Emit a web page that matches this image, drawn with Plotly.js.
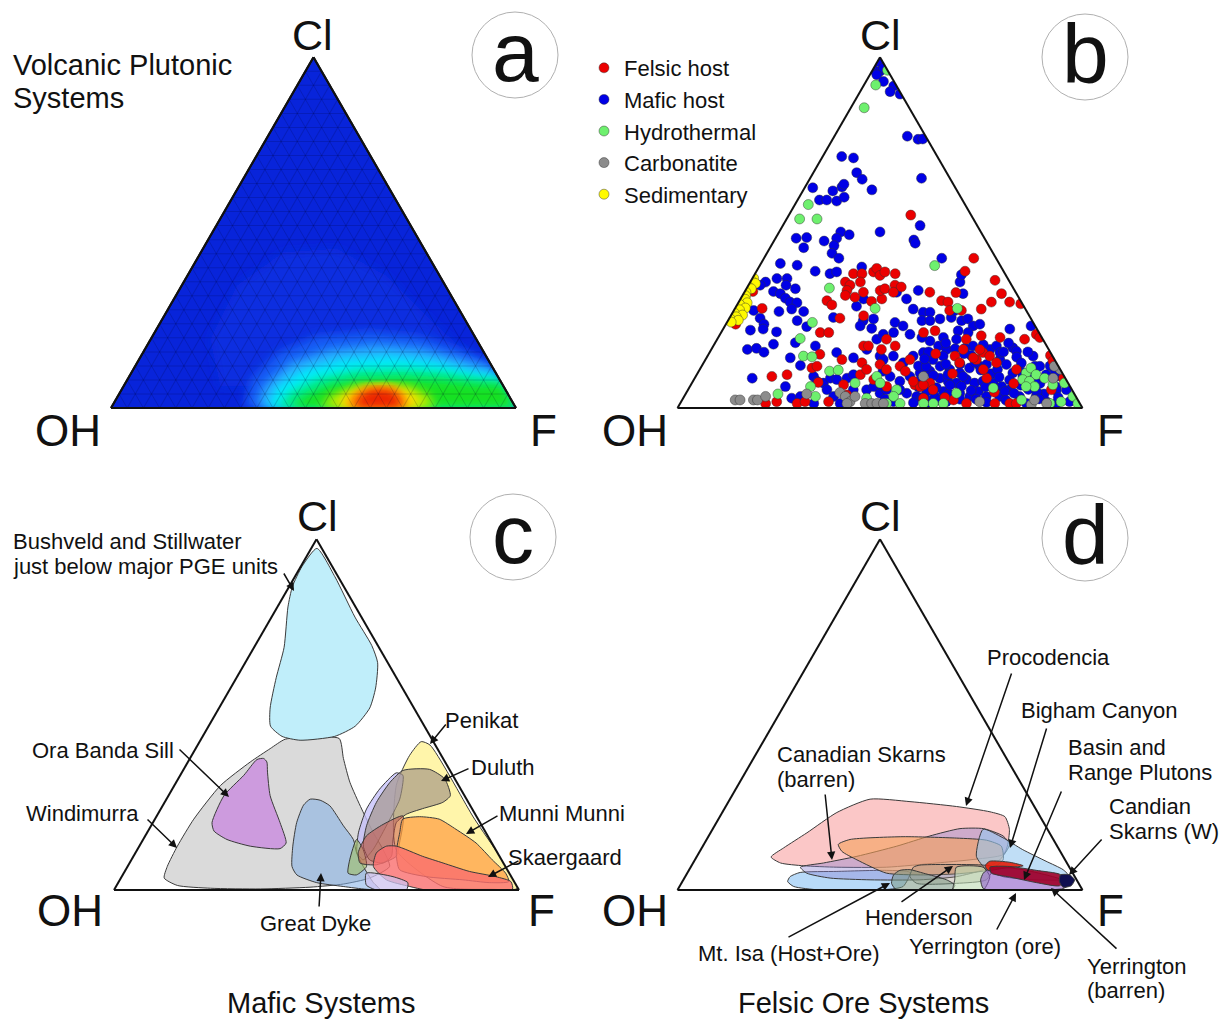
<!DOCTYPE html>
<html>
<head>
<meta charset="utf-8">
<script src="https://cdn.plot.ly/plotly-3.0.1.min.js"></script>
<style>
  html, body { margin: 0; padding: 0; background: #ffffff; }
  #chart { width: 1220px; height: 1019px; }
</style>
</head>
<body>
<div id="chart"></div>
<script>
// All compositions are percentages given as [Cl, F]; OH makes up the remainder.

// ---------- (a) volcanic-plutonic density field: nested levels, outermost first ----------
const densityColors = ['rgb(13,46,224)', 'rgb(22,92,244)', 'rgb(40,170,255)', 'rgb(0,236,250)',
  'rgb(0,235,140)', 'rgb(25,225,35)', 'rgb(175,235,0)', 'rgb(255,225,0)', 'rgb(255,130,0)', 'rgb(235,35,0)'];
const level1 = [[6.1,24.0],[19.5,14.8],[34.9,13.7],[44.4,20.4],[45.4,33.0],[37.7,49.1],[26.2,64.7],[17.6,77.2],[10.0,86.7],[6.1,91.1]];
const level2 = [[0,32.8],[8.0,30.4],[15.7,33.1],[20.5,40.5],[21.9,52.9],[20.5,65.9],[16.7,78.5],[13.8,86.1],[0,100]];
const level3 = [[0,36.0],[6.1,34.6],[12.8,37.8],[16.7,45.7],[18.1,56.5],[16.9,68.5],[13.8,79.9],[11.4,88.6],[0,100]];
const level4 = [[0,38.5],[6.1,37.9],[10.9,42.0],[14.0,50.3],[14.8,61.4],[13.3,73.6],[10.4,84.9],[9.5,90.5],[0,100]];
const level5 = [[0,41.0],[4.7,41.9],[8.5,46.6],[10.9,55.2],[11.4,66.4],[10.4,76.7],[8.5,86.7],[8.0,92.0],[0,100]];
const level6 = [[0,44.2],[3.3,45.9],[6.6,50.8],[8.2,58.1],[8.5,67.8],[7.8,78.0],[6.8,87.0],[6.6,93.3],[0,100]];
const level7 = [[0,51.5],[3.6,52.5],[6.0,56.5],[6.8,64.0],[6.0,71.5],[3.6,76.8],[0,80.0]];
const level8 = [[0,55.5],[3.6,55.8],[6.0,59.0],[6.5,65.0],[5.0,71.0],[2.0,75.0],[0,76.8]];
const level9 = [[0,58.0],[3.6,57.8],[6.0,60.5],[6.0,66.2],[3.6,70.6],[0,73.5]];
const level10 = [[0,60.2],[3.6,59.8],[5.4,62.2],[5.0,66.8],[2.6,70.0],[0,71.6]];

// ---------- (b) apatite compositions by source ----------
const seriesNames = ['Felsic host', 'Mafic host', 'Hydrothermal', 'Carbonatite', 'Sedimentary'];
const maficHost = [[98.8,0.2],[96.5,0.1],[96.0,2.0],[96.9,2.4],[95.0,1.7],[93.1,4.3],[91.8,7.5],[90.2,7.4],[89.5,10.2],
  [77.5,18.0],[76.6,21.1],[76.7,22.2],[71.7,4.7],[71.3,7.8],[67.1,10.7],[65.2,13.0],[62.2,16.9],[65.5,27.5],[62.8,2.0],
  [61.9,7.4],[63.0,9.1],[63.8,9.2],[59.0,9.8],[60.1,11.1],[59.3,5.4],[59.3,7.2],[52.0,33.9],[47.9,34.4],[47.0,35.2],
  [50.2,24.9],[50.2,15.2],[49.4,17.7],[48.4,15.1],[48.4,5.1],[48.6,7.6],[47.6,12.4],[45.7,8.3],[46.3,15.5],[44.1,16.1],
  [42.7,18.5],[42.7,43.9],
  [41.2,4.8],[40.7,9.2],[39.0,14.5],[38.3,18.5],[38.8,19.9],[40.2,25.4],[35.9,3.8],[35.0,2.9],[36.9,6.1],[36.9,8.6],
  [35.0,9.3],[34.0,12.1],[33.2,7.1],[32.6,9.1],[31.3,11.0],[30.2,12.7],[30.0,14.5],[28.2,14.1],[27.5,17.4],[27.5,11.3],
  [27.8,4.9],[25.6,7.6],[23.9,9.4],[24.9,17.1],[23.2,20.3],[22.2,6.9],[22.5,9.9],[21.7,13.6],[17.7,25.2],[16.7,8.9],
  [17.0,11.0],[15.9,13.4],[18.2,14.6],[14.3,20.7],[12.1,24.3],[18.6,19.8],[15.8,31.4],[14.3,36.3],[16.7,38.4],[19.6,39.4],
  [22.7,36.6],[24.9,33.4],[23.4,33.4],[25.4,35.7],[21.0,40.3],[14.8,42.6],[8.5,14.2],[6.1,23.6],[2.8,26.8],[3.3,28.7],
  [9.0,29.1],[7.6,30.6],[7.1,32.5],[8.5,33.5],[8.1,35.3],[8.5,37.6],[9.5,38.7],[5.2,34.3],[3.3,36.9],[1.3,33.0],
  [1.3,39.5],[5.2,40.8],[5.2,44.1],[6.1,45.4],[4.2,47.9],[5.2,49.0],[29.0,29.7],[31.1,30.4],[25.8,25.6],
  [35.9,51.8],[38.0,51.1],[33.0,37.6],[33.5,42.7],[31.1,41.0],[28.2,44.1],[27.3,47.0],[27.3,48.7],[24.9,47.9],[24.9,49.9],
  [24.4,41.5],[23.4,44.0],[21.5,42.6],[21.0,46.9],[25.4,52.1],[25.8,54.7],[27.8,54.6],[32.6,54.2],[24.9,57.7],[25.4,59.0],
  [23.4,61.3],[23.9,62.7],[21.5,61.0],[22.0,58.3],[20.1,55.6],[19.1,52.8],[20.1,50.3],[17.7,55.6],[16.7,58.1],[16.9,60.1],
  [22.5,70.8],[17.2,74.2],[16.2,75.6],[23.4,75.6],[14.8,80.4],[11.9,82.3],
  [13.8,43.9],[14.8,45.9],[12.9,49.3],[14.8,50.8],[15.8,52.8],[13.8,56.2],[14.8,58.2],[11.9,58.9],[11.0,61.7],[10.0,64.7],
  [11.4,66.4],[11.9,68.7],[12.4,70.1],[13.8,72.7],[12.4,75.0],[10.0,77.8],[9.0,80.8],[9.0,83.3],[11.9,83.5],[9.5,86.3],
  [9.0,89.0],[5.2,93.4],[3.3,96.6],[9.0,48.0],[7.6,51.1],[9.0,52.9],[10.0,54.9],[10.5,57.1],[8.5,60.5],[7.6,63.0],
  [7.1,65.3],[8.1,67.3],[7.1,69.8],[7.6,71.6],[7.1,74.4],[6.1,77.0],[5.2,79.4],[3.3,82.8],[1.3,85.5],[3.3,86.9],
  [1.8,90.2],[1.3,92.9],[1.8,95.9],[4.2,54.5],[3.3,57.4],[4.7,59.2],[3.3,61.9],[4.7,63.3],[1.8,65.5],[4.2,67.6],
  [3.3,70.5],[4.7,71.9],[3.3,74.6],[3.3,77.9],[4.7,78.5],[1.8,52.4],[5.2,52.3],[19.6,59.1],[16.7,68.8],[17.7,69.9],
  [17.7,64.1],[15.8,71.7],[6.5,47.0],[2.5,50.0],[10.5,45.5],[12.0,53.5],[6.0,56.5],[2.2,60.5],[5.8,61.0],[9.5,62.0],
  [2.5,68.5],[6.0,73.0],[9.8,72.5],[5.5,75.5],[2.2,80.0],[6.5,81.5],[7.0,86.0],[4.0,88.5],[6.0,90.5],[12.5,63.5],
  [13.0,67.0],[15.0,65.0],
  [16.0,54.0],[18.5,57.0],[17.0,62.5],[15.5,63.0],[18.0,66.5],[16.0,72.5],[14.5,76.5],[12.8,78.5],[11.0,73.5],[10.8,69.5],
  [9.0,66.0],[9.3,58.5],[11.8,55.5],[12.5,60.0],[10.2,80.0],[8.0,78.0],[7.5,84.5],[5.3,84.0],[4.5,86.5],[2.6,88.0],
  [5.0,91.0],[3.0,92.5],[4.0,65.0],[2.3,63.5],[2.5,72.5],[5.0,70.0],[6.2,67.0],[1.6,75.5],[3.0,58.8],[8.0,56.0],
  [12.0,86.0],[10.5,88.0],[16.0,78.5],[18.5,72.5],[14.0,54.0],[6.5,64.0],[8.8,75.0],[4.2,81.0],[1.5,57.5],[0.9,62.0]];
const felsicHost = [[55.0,30.1],[42.7,51.8],
  [38.3,24.3],[38.3,26.4],[38.8,29.0],[39.8,29.3],[37.8,31.1],[38.8,31.8],[35.9,23.5],[35.0,25.1],[35.9,27.2],[33.5,25.1],
  [31.6,28.0],[32.1,25.4],[33.0,29.4],[30.4,32.7],[31.1,34.9],[33.5,33.3],[34.0,34.2],[30.6,21.6],[29.4,23.4],[25.6,27.3],
  [21.5,24.5],[21.5,26.6],[15.3,27.5],[13.8,33.7],[12.9,39.1],[17.7,37.1],[17.7,38.3],[26.3,32.8],[9.0,18.8],[9.5,22.3],
  [11.4,27.5],[11.9,28.5],[1.3,21.1],[1.8,23.6],[1.3,28.9],[1.8,30.6],[1.8,36.4],[3.7,40.0],[9.5,40.4],[7.3,31.1],
  [6.6,37.7],[11.0,41.2],[12.4,43.8],[8.1,44.4],[33.2,2.0],[23.9,2.4],[28.4,6.7],
  [39.0,51.5],[36.4,60.2],[32.6,63.7],[30.2,66.9],[29.7,69.9],[30.2,62.4],[28.2,60.9],[38.3,34.6],[35.0,36.2],[34.5,38.0],
  [33.0,36.8],[33.0,45.8],[30.6,49.9],[30.2,51.7],[27.8,53.3],[27.8,56.2],[32.9,52.3],[21.5,50.0],[22.0,52.6],[19.6,61.5],
  [16.7,62.2],[15.8,67.5],[14.8,69.7],[20.6,64.7],[20.1,69.6],[19.6,75.9],[21.0,78.1],[20.1,79.4],[15.0,84.6],[13.4,86.0],
  [11.0,78.2],[19.6,41.8],[16.7,42.0],[17.7,44.9],[13.8,50.5],[11.9,49.0],[11.0,46.1],[6.1,48.6],[6.6,55.3],[6.1,56.9],
  [7.1,58.8],[14.8,61.1],[12.9,63.2],[13.8,66.9],[12.9,72.3],[8.5,72.1],[1.3,70.7],[1.3,77.7],[1.3,81.4],[2.3,67.0],
  [5.2,89.7],[2.8,59.3],[16.7,66.3],[14.3,65.9],[7.6,54.4],[6.6,57.4],[5.2,60.5],[1.3,83.0],
  [9.8,63.0],[4.5,76.0],[7.0,79.5],[11.0,70.0],[3.0,64.5],[10.5,51.0],[15.5,56.0],[8.5,91.0]];
const hydrothermal = [[96.3,3.7],[92.1,2.9],[85.6,3.3],[58.0,3.3],[53.9,3.2],[53.9,7.5],[40.6,43.2],
  [34.2,20.4],[24.4,21.1],[19.8,20.4],[14.8,23.7],[14.6,25.9],[10.5,32.3],[10.8,34.3],[6.1,29.8],[4.0,22.8],[7.1,40.3],
  [9.0,44.7],[7.1,46.5],[28.4,34.6],[2.8,45.3],[1.3,51.0],[3.3,32.4],
  [28.4,54.9],[10.0,81.1],[11.4,81.6],[9.5,83.8],[8.1,81.2],[7.6,83.1],[6.1,85.1],[6.1,83.0],[8.5,86.4],[6.6,89.4],
  [7.1,92.0],[3.3,96.0],[1.3,98.2],[1.8,93.8],[1.3,91.3],[2.3,83.8],[5.7,75.1],[4.2,66.8],[1.3,65.0],[1.3,62.5],
  [1.3,60.1],[5.2,51.5],[3.3,51.7],[1.3,54.3]];
const carbonatite = [[2.3,13.1],[2.3,14.3],[2.3,17.6],[2.3,18.6],[3.3,20.1],[4.0,29.9],[4.4,37.9],[3.3,39.8],[1.8,41.7],
  [3.3,42.2],[1.3,45.7],[1.3,47.3],[1.3,48.6],[1.3,50.2],[1.3,41.2],[9.0,56.2],[1.8,73.7],[0.9,86.9],[2.3,87.0],
  [8.5,88.5],[11.0,89.0],[11.9,87.1],[1.3,90.5]];
const sedimentary = [[37,0.3],[36,0.5],[35.5,1.5],[34.5,0.3],[34,1.2],[33,0.4],[32,0.8],[31,1.2],[30,2.2],[29.5,0.6],
  [28.5,2.5],[28,1.3],[27,0.6],[26.5,2.8],[26,1.5],[25.5,0.2],[25,2.5],[24.5,1]];

// ---------- (c) mafic systems ----------
const windimurra = [[43.0,20.8],[43.4,26.7],[43.2,34.0],[37.5,37.9],[30.7,42.9],[23.1,49.6],[16.3,55.9],[11.5,60.7],
  [6.7,64.7],[3.4,61.4],[1.7,55.8],[0.8,48.0],[0.3,36.0],[0.5,23.6],[1.3,15.0],[3.4,10.7],[6.7,9.8],[12.5,9.4],
  [20.2,9.6],[29.8,11.4],[36.5,15.4],[40.3,18.4]];
const bushveldStillwater = [[97.4,1.4],[89.3,9.9],[77.8,20.6],[69.7,28.8],[64.8,32.7],[57.6,35.8],[51.9,37.2],[46.7,36.2],
  [43.8,32.6],[42.7,24.6],[43.8,19.6],[46.7,15.3],[51.9,12.6],[60.5,9.8],[69.2,7.4],[80.7,2.6],[86.5,0.8],[92.2,0.3]];
const oraBandaSill = [[37.5,18.2],[37.2,16.7],[32.7,15.7],[26.9,13.7],[19.2,14.6],[16.8,16.3],[14.4,20.7],[12.5,27.4],
  [11.8,35.1],[13.4,35.8],[19.2,31.4],[26.9,25.1],[33.6,21.1],[36.5,19.5]];
const greatDyke = [[25.9,35.5],[24.2,34.7],[19.2,35.5],[12.5,37.9],[6.7,40.6],[4.3,43.0],[2.1,49.0],[1.0,56.1],[0.2,62.2],
  [0.2,65.5],[2.1,63.0],[6.7,58.2],[10.6,54.6],[14.4,51.9],[18.3,47.5],[24.0,41.3],[25.6,38.1]];
const penikat = [[42.3,54.7],[41.3,57.4],[21.1,78.0],[0.5,99.3],[0.2,93.3],[1.0,80.7],[11.5,63.9],[29.8,54.8],[38.4,53.8]];
const lavenderField = [[33.4,53.0],[32.7,55.0],[25.9,57.6],[18.2,58.1],[11.5,58.2],[8.6,57.2],[10.6,54.7],[16.3,52.2],
  [23.1,50.8],[28.8,51.2]];
const duluth = [[34.1,54.3],[34.4,60.7],[31.7,65.8],[26.9,69.6],[25.0,68.7],[23.2,64.6],[21.6,61.4],[19.2,60.1],
  [14.4,61.7],[9.6,63.7],[7.7,62.6],[8.6,58.8],[12.5,55.3],[18.3,53.2],[25.0,52.3],[30.7,52.8]];
const oliveField = [[14.4,52.7],[8.6,53.9],[4.8,55.4],[4.3,57.7],[6.7,59.0],[11.5,55.8]];
const munniCore = [[21.1,60.8],[13.4,63.8],[9.6,64.9],[7.2,61.2],[7.7,56.9],[10.6,55.0],[15.4,54.6],[18.7,57.1]];
const munniMunni = [[20.2,61.2],[20.9,65.0],[20.2,70.2],[17.3,75.8],[13.4,82.7],[8.6,89.1],[4.8,94.3],[2.4,96.3],
  [2.1,91.6],[2.9,84.7],[3.8,75.2],[5.8,67.6],[10.6,64.4],[16.3,62.4]];
const skaergaard = [[12.5,61.0],[12.5,63.5],[9.6,71.4],[7.7,77.4],[5.3,85.1],[3.8,92.4],[2.4,96.8],[0.2,98.3],[0,89.4],
  [0,77.1],[1.0,72.5],[2.9,65.8],[6.7,60.7],[10.6,59.5]];
const paleField = [[4.8,59.9],[3.8,67.0],[2.1,71.5],[0,72.2],[0,64.8],[1.4,61.6]];

// ---------- (d) felsic ore systems ----------
const lightBlueField = [[3.8,25.9],[5.0,27.8],[5.3,36.7],[5.6,48.8],[5.0,54.9],[1.0,55.2],[0,50.0],[0,35.2],[1.0,28.2],[2.4,26.0]];
const procodencia = [[9.4,18.4],[12.0,20.2],[16.3,23.8],[22.1,28.3],[25.9,34.6],[25.2,44.8],[23.8,57.0],[22.3,66.0],
  [20.9,70.4],[17.3,73.3],[12.5,75.2],[10.1,75.4],[8.6,67.9],[7.7,60.2],[6.5,48.4],[6.5,36.1],[6.9,27.7],[7.7,21.6]];
const canadianSkarnsBarren = [[6.5,27.1],[7.7,32.2],[9.6,39.5],[12.5,47.9],[15.4,54.6],[17.5,61.0],[17.5,66.8],[15.4,72.7],
  [13.0,75.5],[8.6,75.3],[5.8,72.6],[3.8,67.0],[2.9,58.4],[2.9,46.1],[3.4,36.0],[4.8,29.5]];
const orangeField = [[13.0,33.2],[14.4,35.4],[15.2,48.1],[14.8,61.5],[14.2,69.2],[12.5,73.7],[8.6,76.1],[5.8,74.2],
  [4.6,66.6],[4.3,57.8],[4.8,49.2],[8.6,40.0],[11.0,35.1]];
const bighamCanyon = [[17.3,66.8],[14.9,72.9],[11.5,79.5],[8.2,86.9],[5.8,92.3],[3.8,94.9],[2.9,93.7],[2.9,87.1],
  [3.8,78.5],[5.8,73.4],[9.6,69.0]];
const henderson = [[6.5,55.0],[7.1,56.3],[7.1,71.9],[6.5,74.7],[2.9,74.8],[1.9,68.0],[1.9,58.1],[3.8,55.5]];
const mtIsa = [[4.3,51.2],[5.6,52.1],[5.8,54.5],[4.8,58.3],[2.9,65.0],[1.4,67.8],[0,67.6],[0,54.1],[1.9,51.9]];
const paleGreenField = [[6.5,65.6],[6.5,72.2],[3.8,75.2],[0,75.5],[0,68.1],[2.9,67.0]];
const yerringtonBarren = [[4.8,73.1],[6.2,74.0],[6.5,77.1],[5.8,82.4],[4.3,88.9],[2.9,93.7],[1.7,95.9],[0.4,95.0],
  [0,80.4],[0.4,75.3],[2.9,73.4]];
const redField = [[6.9,72.5],[8.2,73.0],[7.9,78.1],[6.9,81.9],[6.2,77.3],[5.6,73.9]];
const basinRange = [[6.5,73.9],[6.7,78.7],[5.6,85.8],[4.5,92.1],[2.9,94.2],[1.2,93.7],[2.1,87.6],[3.7,80.2],[4.8,75.1]];
const canadianSkarnsW = [[4.3,92.4],[4.3,94.7],[2.9,96.6],[1.2,96.6],[0.8,94.8],[2.4,93.1]];

// ---------- helpers ----------
const W = 1220, H = 1019;
const FONT = 'Liberation Sans, Arial, Helvetica, sans-serif';
function tern(pts) {
  return {
    a: pts.map(p => p[0]),
    c: pts.map(p => p[1]),
    b: pts.map(p => Math.max(0, 100 - p[0] - p[1]))
  };
}
function region(pts, fill, subplot, opts) {
  opts = opts || {};
  const t = tern(pts.concat([pts[0]]));
  return {
    type: 'scatterternary', subplot: subplot, mode: 'lines',
    a: t.a, b: t.b, c: t.c, fill: 'toself', fillcolor: fill,
    line: { color: opts.line || '#3a3a3a', width: opts.width === undefined ? 1 : opts.width,
            shape: opts.shape || 'spline', smoothing: 0.6 },
    showlegend: false, hoverinfo: 'skip', uid: opts.uid
  };
}
function points(pts, name, color, rank) {
  const t = tern(pts);
  return {
    type: 'scatterternary', subplot: 'ternary2', mode: 'markers', name: name, legendrank: rank,
    a: t.a, b: t.b, c: t.c,
    marker: { size: 10, color: color, line: { color: 'rgba(50,50,50,0.75)', width: 0.6 } },
    hoverinfo: 'skip'
  };
}
// paper coordinates from page pixels
const px = x => x / W, py = y => 1 - y / H;

// ---------- traces ----------
const traces = [];
const levels = [level1, level2, level3, level4, level5, level6, level7, level8, level9, level10];
levels.forEach((lv, i) => traces.push(region(lv, densityColors[i], 'ternary',
  { width: 0, shape: 'linear', line: 'rgba(0,0,0,0)', uid: 'heat' + i })));
// empty overlay subplot that carries the mesh above the density field
traces.push({ type: 'scatterternary', subplot: 'ternary5', mode: 'markers', a: [34], b: [33], c: [33],
  marker: { opacity: 0 }, showlegend: false, hoverinfo: 'skip' });

traces.push(points(maficHost, seriesNames[1], 'rgb(0,0,230)', 2));
traces.push(points(felsicHost, seriesNames[0], 'rgb(235,0,0)', 1));
traces.push(points(hydrothermal, seriesNames[2], 'rgb(110,240,110)', 3));
traces.push(points(carbonatite, seriesNames[3], 'rgb(140,140,140)', 4));
traces.push(points(sedimentary, seriesNames[4], 'rgb(255,250,0)', 5));

traces.push(region(windimurra, 'rgb(218,218,218)', 'ternary3'));
traces.push(region(bushveldStillwater, 'rgb(192,238,250)', 'ternary3'));
traces.push(region(oraBandaSill, 'rgb(205,155,222)', 'ternary3'));
traces.push(region(greatDyke, 'rgba(130,175,230,0.55)', 'ternary3'));
traces.push(region(penikat, 'rgb(255,245,170)', 'ternary3'));
traces.push(region(lavenderField, 'rgba(195,190,250,0.75)', 'ternary3'));
traces.push(region(duluth, 'rgba(160,145,130,0.65)', 'ternary3'));
traces.push(region(oliveField, 'rgba(160,190,100,0.6)', 'ternary3'));
traces.push(region(munniCore, 'rgba(200,80,70,0.5)', 'ternary3'));
traces.push(region(munniMunni, 'rgba(255,160,70,0.75)', 'ternary3'));
traces.push(region(skaergaard, 'rgba(250,110,110,0.8)', 'ternary3'));
traces.push(region(paleField, 'rgba(205,195,240,0.75)', 'ternary3'));

traces.push(region(lightBlueField, 'rgba(160,205,245,0.75)', 'ternary4'));
traces.push(region(procodencia, 'rgba(250,175,175,0.7)', 'ternary4'));
traces.push(region(canadianSkarnsBarren, 'rgba(140,130,210,0.4)', 'ternary4'));
traces.push(region(orangeField, 'rgba(245,160,90,0.6)', 'ternary4'));
traces.push(region(bighamCanyon, 'rgba(150,200,240,0.6)', 'ternary4'));
traces.push(region(henderson, 'rgba(150,130,110,0.3)', 'ternary4'));
traces.push(region(mtIsa, 'rgba(120,150,130,0.55)', 'ternary4'));
traces.push(region(paleGreenField, 'rgba(190,220,180,0.6)', 'ternary4'));
traces.push(region(yerringtonBarren, 'rgba(140,90,200,0.6)', 'ternary4'));
traces.push(region(redField, 'rgba(230,30,10,0.9)', 'ternary4'));
traces.push(region(basinRange, 'rgba(160,0,40,0.9)', 'ternary4'));
traces.push(region(canadianSkarnsW, 'rgb(15,15,80)', 'ternary4'));

// ---------- layout ----------
function axis(grid) {
  const ax = { showline: true, linecolor: '#111', linewidth: 2, showticklabels: false, ticks: '',
    title: { text: '' }, showgrid: !!grid, min: 0 };
  if (grid) Object.assign(ax, { tickmode: 'linear', tick0: 0, dtick: 4, gridcolor: 'rgba(0,0,45,0.18)', gridwidth: 1 });
  return ax;
}
function ternaryBox(left, right, bottom, bg, grid) {
  const h = (right - left) * Math.sqrt(3) / 2;
  return {
    domain: { x: [px(left), px(right)], y: [py(bottom), py(bottom - h)] },
    sum: 100, bgcolor: bg,
    aaxis: axis(grid), baxis: axis(grid), caxis: axis(grid)
  };
}

const annotations = [];
function label(text, x, y, size, anchor) {
  annotations.push({ text: text, x: px(x), y: py(y), xref: 'paper', yref: 'paper', showarrow: false,
    xanchor: anchor || 'center', yanchor: 'middle', align: anchor === 'left' ? 'left' : 'center',
    font: { family: FONT, size: size, color: '#111' } });
}
function arrow(x0, y0, x1, y1) {
  annotations.push({ text: '', x: px(x1), y: py(y1), xref: 'paper', yref: 'paper', showarrow: true,
    ax: x0 - x1, ay: y0 - y1, arrowhead: 2, arrowsize: 1.1, arrowwidth: 1.5, arrowcolor: '#111', standoff: 0 });
}

// vertex names
[[313, 35, 430, 68, 543], [880, 35, 430, 635, 1110], [317, 516, 910, 70, 541], [880, 516, 910, 635, 1110]]
  .forEach(v => {
    label('Cl', v[0], v[1], 43);
    label('OH', v[3], v[2], 44);
    label('F', v[4], v[2], 44);
  });

// panel letters
const shapes = [];
[['a', 515, 55], ['b', 1085, 57], ['c', 513, 537], ['d', 1085, 538]].forEach(l => {
  shapes.push({ type: 'circle', xref: 'paper', yref: 'paper', x0: px(l[1] - 43), x1: px(l[1] + 43),
    y0: py(l[2] + 43), y1: py(l[2] - 43), line: { color: '#b0b0b0', width: 1 } });
  label(l[0], l[1], l[2] - 3, 84);
});

label('Volcanic Plutonic', 11, 65, 29, 'left');
label('Systems', 11, 98, 29, 'left');

// (c) labels
label('Bushveld and Stillwater', 11, 541, 22, 'left');
label('just below major PGE units', 11, 566, 22, 'left');
label('Ora Banda Sill', 103, 750, 22);
label('Windimurra', 82, 813, 22);
label('Great Dyke', 315, 923, 22);
label('Penikat', 481, 720, 22);
label('Duluth', 503, 767, 22);
label('Munni Munni', 562, 813, 22);
label('Skaergaard', 565, 857, 22);
label('Mafic Systems', 321, 1003, 29);
arrow(283, 572, 294, 591);
arrow(178, 748, 229, 797);
arrow(146, 818, 177, 848);
arrow(319, 908, 321, 873);
arrow(447, 723, 430, 744);
arrow(470, 768, 441, 781);
arrow(499, 815, 466, 834);
arrow(520, 860, 488, 877);

// (d) labels
label('Procodencia', 1048, 657, 22);
label('Bigham Canyon', 1099, 710, 22);
label('Basin and', 1066, 747, 22, 'left');
label('Range Plutons', 1066, 772, 22, 'left');
label('Candian', 1107, 806, 22, 'left');
label('Skarns (W)', 1107, 831, 22, 'left');
label('Canadian Skarns', 775, 754, 22, 'left');
label('(barren)', 775, 779, 22, 'left');
label('Henderson', 919, 917, 22);
label('Mt. Isa (Host+Ore)', 789, 953, 22);
label('Yerrington (ore)', 985, 946, 22);
label('Yerrington', 1085, 966, 22, 'left');
label('(barren)', 1085, 990, 22, 'left');
label('Felsic Ore Systems', 863, 1003, 29);
arrow(1012, 672, 966, 806);
arrow(1047, 727, 1010, 848);
arrow(1062, 790, 1024, 880);
arrow(1103, 838, 1069, 875);
arrow(825, 793, 832, 860);
arrow(900, 903, 953, 866);
arrow(787, 938, 890, 883);
arrow(996, 931, 1016, 893);
arrow(1118, 950, 1051, 888);

const layout = {
  width: W, height: H,
  margin: { l: 0, r: 0, t: 0, b: 0, pad: 0 },
  paper_bgcolor: '#ffffff',
  font: { family: FONT, color: '#111' },
  showlegend: true,
  legend: { x: px(584), y: py(47), xanchor: 'left', yanchor: 'top', bgcolor: 'rgba(0,0,0,0)',
    font: { family: FONT, size: 22, color: '#111' }, itemwidth: 30, tracegroupgap: 0 },
  ternary: ternaryBox(111, 516, 408, 'rgb(8,36,218)', false),
  ternary2: ternaryBox(677.5, 1082.5, 408, 'rgba(0,0,0,0)', false),
  ternary3: ternaryBox(114, 519, 890, 'rgba(0,0,0,0)', false),
  ternary4: ternaryBox(677.5, 1082.5, 890, 'rgba(0,0,0,0)', false),
  ternary5: ternaryBox(111, 516, 408, 'rgba(0,0,0,0)', true),
  annotations: annotations,
  shapes: shapes
};

Plotly.newPlot('chart', traces, layout, { staticPlot: true, displayModeBar: false }).then(gd => {
  // soften the density levels so they blend like a continuous surface
  const ns = 'http://www.w3.org/2000/svg';
  const svg = gd.querySelector('svg.main-svg');
  let defs = svg.querySelector('defs');
  if (!defs) { defs = document.createElementNS(ns, 'defs'); svg.insertBefore(defs, svg.firstChild); }
  const filter = document.createElementNS(ns, 'filter');
  filter.setAttribute('id', 'densitySoften');
  filter.setAttribute('x', '-20%'); filter.setAttribute('y', '-20%');
  filter.setAttribute('width', '140%'); filter.setAttribute('height', '140%');
  const blur = document.createElementNS(ns, 'feGaussianBlur');
  blur.setAttribute('stdDeviation', '5');
  filter.appendChild(blur);
  defs.appendChild(filter);
  for (let i = 0; i < levels.length; i++) {
    gd.querySelectorAll('g.traceheat' + i + ' path.js-fill').forEach(p => {
      p.setAttribute('filter', 'url(#densitySoften)');
    });
  }
});
</script>
</body>
</html>
